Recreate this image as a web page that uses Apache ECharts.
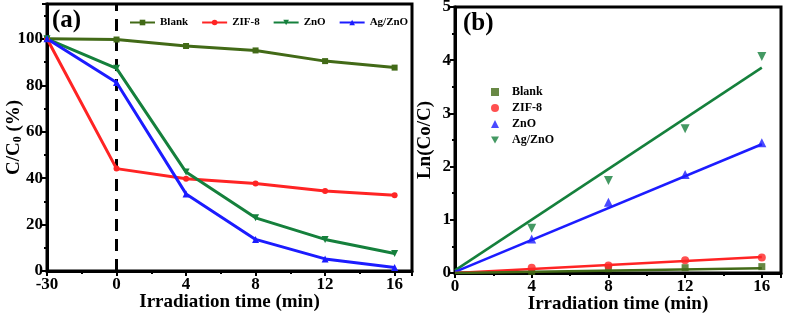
<!DOCTYPE html>
<html lang="en">
<head>
    <meta charset="UTF-8">
    <title>Degradation kinetics</title>
    <script src="https://cdn.jsdelivr.net/npm/echarts@6/dist/echarts.min.js"></script>
    <style>
        html, body { margin: 0; padding: 0; background: #fff; }
    </style>
</head>
<body>
    <div id="ec" style="width:787px;height:315px"></div>
</body>
<script>
    // (a) C/C0 vs time, the -30 point sits one step left of 0 (broken axis)
    var timesA = [-30, 0, 4, 8, 12, 16]
    var blankA = [100, 99.7, 96.9, 95.0, 90.4, 87.6]
    var zif8A = [100, 44.1, 39.7, 37.7, 34.5, 32.6]
    var znoA = [100, 87.3, 42.6, 22.9, 13.6, 7.5]
    var agznoA = [100, 81.2, 33.2, 13.6, 5.2, 1.5]
    // light switched on at t = 0 (dashed divider)
    var lightOn = [[0, 0], [0, 115]]

    // (b) Ln(C0/C) vs time
    var timesB = [4, 8, 12, 16]
    var blankB = [0.03, 0.08, 0.10, 0.12]
    var zif8B = [0.10, 0.14, 0.24, 0.29]
    var znoB = [0.64, 1.33, 1.85, 2.45]
    var agznoB = [0.84, 1.74, 2.71, 4.07]
    // linear fits: value at t=0 and at t=16
    var fitTimes = [0, 16]
    var blankFit = [0.0, 0.09]
    var zif8Fit = [0.0, 0.30]
    var znoFit = [0.02, 2.42]
    var agznoFit = [0.05, 3.86]

    var cOlive = '#426a17'
    var cRed = '#ff2424'
    var cGreen = '#15803c'
    var cBlue = '#1c1cff'
    var font = 'Liberation Serif'
    var downTri = 'path://M0,0L10,0L5,9Z'

    function posA(t) { return t === -30 ? -4 : t }
    function pairs(xs, ys, f) {
        return xs.map(function (x, i) { return [f ? f(x) : x, ys[i]] })
    }

    var labelStyle = { fontFamily: font, fontWeight: 'bold', fontSize: 17, color: '#000' }
    var nameStyle = { fontFamily: font, fontWeight: 'bold', fontSize: 19, color: '#000' }
    var axisLine = { show: true, onZero: false, lineStyle: { color: '#000', width: 3 } }
    var axisTick = { show: true, inside: false, length: 5, lineStyle: { color: '#000', width: 2 } }
    var minorTick = { show: true, splitNumber: 2, length: 3, lineStyle: { color: '#000', width: 2 } }

    var mychart = echarts.init(document.getElementById('ec'))
    var options = {
        animation: false,
        backgroundColor: '#fff',
        grid: [
            { left: 47, top: 4, width: 365, height: 267, show: true, borderColor: '#000', borderWidth: 3, outerBoundsMode: 'none' },
            { left: 455, top: 7, right: 6, height: 266, show: true, borderColor: '#000', borderWidth: 3, outerBoundsMode: 'none' }
        ],
        xAxis: [
            {
                gridIndex: 0, type: 'value', min: -4, max: 17, interval: 4,
                axisLine: axisLine, axisTick: axisTick, minorTick: minorTick, splitLine: { show: false },
                axisLabel: Object.assign({ margin: 5, formatter: function (v) {
                    if (v === -4) return '-30'
                    if (v > 16) return ''
                    return String(v)
                } }, labelStyle),
                name: 'Irradiation time (min)', nameLocation: 'middle', nameGap: 22, nameMoveOverlap: false, nameTextStyle: nameStyle
            },
            {
                gridIndex: 1, type: 'value', min: 0, max: 17, interval: 4,
                axisLine: axisLine, axisTick: axisTick, minorTick: minorTick, splitLine: { show: false },
                axisLabel: Object.assign({ margin: 5, formatter: function (v) { return v > 16 ? '' : String(v) } }, labelStyle),
                name: 'Irradiation time (min)', nameLocation: 'middle', nameGap: 22, nameMoveOverlap: false, nameTextStyle: nameStyle
            }
        ],
        yAxis: [
            {
                gridIndex: 0, type: 'value', min: 0, max: 115, interval: 20,
                axisLine: axisLine, axisTick: axisTick, minorTick: minorTick, splitLine: { show: false },
                axisLabel: Object.assign({ margin: 4, formatter: function (v) { return v > 100 ? '' : String(v) } }, labelStyle),
                name: 'C/C{sub|0} (%)', nameLocation: 'middle', nameGap: 23, nameMoveOverlap: false,
                nameTextStyle: Object.assign({ rich: { sub: { fontFamily: font, fontWeight: 'bold', fontSize: 12, padding: [8, 0, 0, 0] } } }, nameStyle)
            },
            {
                gridIndex: 1, type: 'value', min: 0, max: 5, interval: 1,
                axisLine: axisLine, axisTick: axisTick, minorTick: minorTick, splitLine: { show: false },
                axisLabel: Object.assign({ margin: 4 }, labelStyle),
                name: 'Ln(Co/C)', nameLocation: 'middle', nameGap: 20, nameMoveOverlap: false, nameTextStyle: nameStyle
            }
        ],
        legend: [
            {
                data: ['Blank', 'ZIF-8', 'ZnO', 'Ag/ZnO'],
                left: 129, top: 17, padding: 0, orient: 'horizontal', itemWidth: 25, itemHeight: 7, itemGap: 13,
                textStyle: { fontFamily: font, fontWeight: 'bold', fontSize: 11, color: '#000' }
            },
            {
                data: ['Blank ', 'ZIF-8 ', 'ZnO ', { name: 'Ag/ZnO ', icon: downTri }],
                left: 491, top: 86, padding: 0, orient: 'vertical', itemWidth: 8, itemHeight: 8, itemGap: 4,
                textStyle: { fontFamily: font, fontWeight: 'bold', fontSize: 12, color: '#000', padding: [0, 0, 0, 8] }
            }
        ],
        graphic: [
            { type: 'text', left: 52, top: 8, style: { text: '(a)', fontFamily: font, fontWeight: 'bold', fontSize: 25, fill: '#000' } },
            { type: 'text', left: 463, top: 11, style: { text: '(b)', fontFamily: font, fontWeight: 'bold', fontSize: 25, fill: '#000' } }
        ],
        series: [
            {
                name: 'light on', type: 'line', xAxisIndex: 0, yAxisIndex: 0, showSymbol: false, silent: true,
                data: lightOn, lineStyle: { color: '#000', width: 3, type: [12, 8] }, z: 1
            },
            {
                name: 'Blank', type: 'line', xAxisIndex: 0, yAxisIndex: 0,
                data: pairs(timesA, blankA, posA), symbol: 'rect', symbolSize: 6,
                lineStyle: { color: cOlive, width: 3 }, itemStyle: { color: cOlive }
            },
            {
                name: 'ZIF-8', type: 'line', xAxisIndex: 0, yAxisIndex: 0,
                data: pairs(timesA, zif8A, posA), symbol: 'circle', symbolSize: 6,
                lineStyle: { color: cRed, width: 3 }, itemStyle: { color: cRed }
            },
            {
                name: 'ZnO', type: 'line', xAxisIndex: 0, yAxisIndex: 0,
                data: pairs(timesA, znoA, posA), symbol: 'triangle', symbolRotate: 180, symbolSize: 7,
                lineStyle: { color: cGreen, width: 3 }, itemStyle: { color: cGreen }
            },
            {
                name: 'Ag/ZnO', type: 'line', xAxisIndex: 0, yAxisIndex: 0,
                data: pairs(timesA, agznoA, posA), symbol: 'triangle', symbolSize: 7,
                lineStyle: { color: cBlue, width: 3 }, itemStyle: { color: cBlue }
            },
            // (b) fitted lines
            {
                name: 'Ag/ZnO fit', type: 'line', xAxisIndex: 1, yAxisIndex: 1, showSymbol: false,
                data: pairs(fitTimes, agznoFit), lineStyle: { color: cGreen, width: 2.5 }, itemStyle: { color: cGreen }
            },
            {
                name: 'ZnO fit', type: 'line', xAxisIndex: 1, yAxisIndex: 1, showSymbol: false,
                data: pairs(fitTimes, znoFit), lineStyle: { color: cBlue, width: 2.5 }, itemStyle: { color: cBlue }
            },
            {
                name: 'ZIF-8 fit', type: 'line', xAxisIndex: 1, yAxisIndex: 1, showSymbol: false,
                data: pairs(fitTimes, zif8Fit), lineStyle: { color: cRed, width: 2.5 }, itemStyle: { color: cRed }
            },
            {
                name: 'Blank fit', type: 'line', xAxisIndex: 1, yAxisIndex: 1, showSymbol: false,
                data: pairs(fitTimes, blankFit), lineStyle: { color: cOlive, width: 2.5 }, itemStyle: { color: cOlive }
            },
            // (b) measured points
            {
                name: 'Blank ', type: 'scatter', xAxisIndex: 1, yAxisIndex: 1, symbol: 'rect', symbolSize: 7,
                data: pairs(timesB, blankB), itemStyle: { color: cOlive }
            },
            {
                name: 'ZIF-8 ', type: 'scatter', xAxisIndex: 1, yAxisIndex: 1, symbol: 'circle', symbolSize: 8,
                data: pairs(timesB, zif8B), itemStyle: { color: cRed }
            },
            {
                name: 'ZnO ', type: 'scatter', xAxisIndex: 1, yAxisIndex: 1, symbol: 'triangle', symbolSize: 9,
                data: pairs(timesB, znoB), itemStyle: { color: cBlue }
            },
            {
                name: 'Ag/ZnO ', type: 'scatter', xAxisIndex: 1, yAxisIndex: 1, symbol: 'triangle', symbolRotate: 180, symbolSize: 9,
                data: pairs(timesB, agznoB), itemStyle: { color: cGreen }
            }
        ]
    }
    mychart.setOption(options)
</script>
</html>
